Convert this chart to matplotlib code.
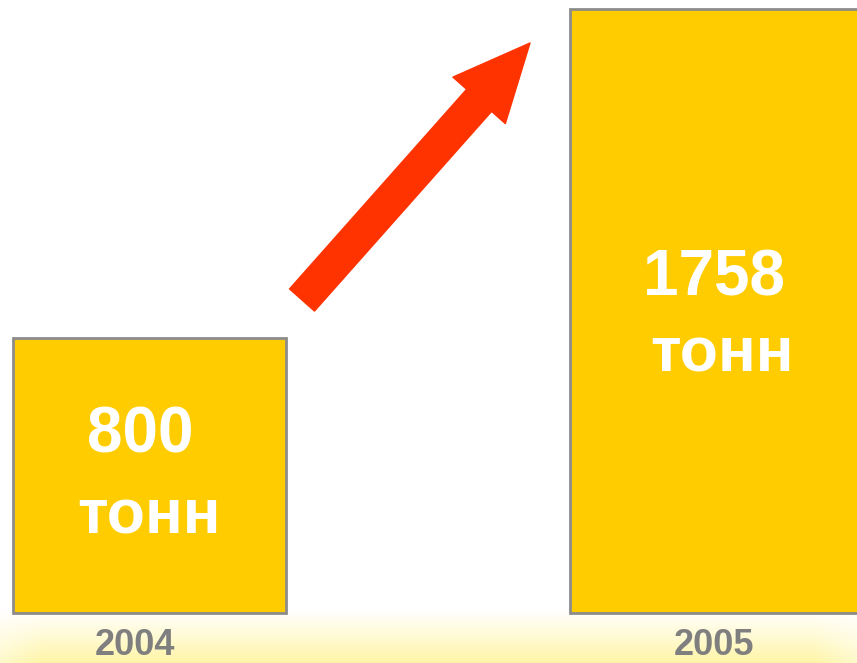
import matplotlib
matplotlib.use("Agg")
import matplotlib.pyplot as plt
import numpy as np

YEARS = ["2004", "2005"]
TONNES = [800, 1758]
UNIT = "тонн"

BAR_COLOR = "#FFCC00"
EDGE_COLOR = "#8C8C8C"
ARROW_COLOR = "#FF3300"
YEAR_COLOR = "#7F7F7F"

plt.rcParams["font.family"] = ["Liberation Sans", "DejaVu Sans"]

fig = plt.figure(figsize=(8.57, 6.63), dpi=100)

# pale yellow glow along the bottom edge
bg = fig.add_axes([0, 0, 1, 1])
bg.set_xlim(0, 1)
bg.set_ylim(0, 1)
bg.axis("off")
yy = np.linspace(0, 1, 200)[:, None]
xx = np.linspace(0, 1, 400)[None, :]
fade = np.clip(1 - yy / 0.08, 0, 1) ** 1.1
side = np.clip(np.minimum(xx, 1 - xx) / 0.05, 0, 1)
alpha = fade * (0.6 + 0.4 * side)
glow = np.zeros((200, 400, 4))
glow[..., 0] = 1.0
glow[..., 1] = 0.96
glow[..., 2] = 0.62
glow[..., 3] = alpha * 0.9
bg.imshow(glow, extent=(0, 1, 0, 1), origin="lower", aspect="auto", zorder=0)

ax = fig.add_axes([0, 0, 1, 1])
ax.patch.set_alpha(0)
xpos = np.arange(len(YEARS))
ax.bar(xpos, TONNES, width=[0.483, 0.51], color=BAR_COLOR, edgecolor=EDGE_COLOR,
       linewidth=2, zorder=2)
ax.set_xlim(-0.264, 1.253)
ax.set_ylim(-145, 1784)
ax.axis("off")

# value labels inside the bars
num_y = [518, 975]
unit_y = [279, 751]
for i, v in enumerate(TONNES):
    ax.text(xpos[i] - 0.015 * (1 - i), num_y[i], f"{v}", color="white", fontsize=46,
            fontweight="bold", ha="center", va="center", zorder=3)
    ax.text(xpos[i] + 0.014 * i, unit_y[i], UNIT, color="white", fontsize=45,
            fontweight="bold", ha="center", va="center", zorder=3)

# year labels under the bars
for i, yr in enumerate(YEARS):
    ax.text(xpos[i] - 0.025 * (1 - i), -95, yr, color=YEAR_COLOR, fontsize=26,
            fontweight="bold", ha="center", va="center", zorder=3)

# growth arrow
ax.annotate("", xy=(530 / 857, 1 - 43 / 663), xytext=(302 / 857, 1 - 300 / 663),
            xycoords="figure fraction", textcoords="figure fraction",
            arrowprops=dict(arrowstyle="simple,head_length=2.3,head_width=2.1,tail_width=1.0",
                            color=ARROW_COLOR, mutation_scale=24, shrinkA=0, shrinkB=0),
            zorder=4)

fig.savefig("out.png", dpi=100)
